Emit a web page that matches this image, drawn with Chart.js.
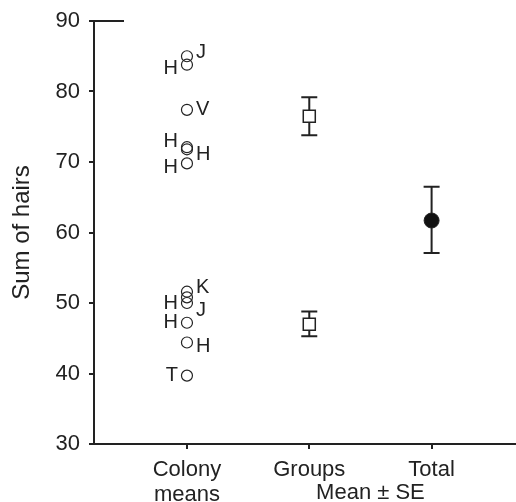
<!DOCTYPE html>
<html><head><meta charset="utf-8">
<script src="https://cdn.jsdelivr.net/npm/chart.js@4/dist/chart.umd.min.js"></script>
<style>html,body{margin:0;padding:0;background:#fff}canvas{display:block}</style>
</head><body>
<canvas id="c" width="516" height="502"></canvas>
<script>
// ---- data ----
const categories = ["Colony\nmeans", "Groups", "Total"];
const groupTitle = "Mean ± SE";
const yAxisTitle = "Sum of hairs";
const yTicks = [30, 40, 50, 60, 70, 80, 90];
const colonyMeans = [85.0, 83.8, 77.4, 72.1, 71.8, 69.8, 51.6, 50.8, 50.0, 47.2, 44.4, 39.7];
const colonyLabels = ["J", "H", "V", "H", "H", "H", "K", "H", "J", "H", "H", "T"];
const colonyLabelSide = ["right", "left", "right", "left", "right", "left", "right", "left", "right", "left", "right", "left"];
const colonyLabelY = [85.5, 83.3, 77.4, 72.85, 71.0, 69.2, 52.2, 50.0, 48.9, 47.2, 43.9, 39.7];
const groupMeans = [76.5, 47.0];
const groupLow = [73.8, 45.3];
const groupHigh = [79.2, 48.8];
const totalMean = [61.7];
const totalLow = [57.1];
const totalHigh = [66.5];

const FONT = "'Liberation Sans', Arial, Helvetica, sans-serif";
const INK = '#222';
const TICK_PAD = 8, TICK_LEN = 5, LINE_H = 25;

const colonyData = colonyMeans.map(v => ({x: 1, y: v}));
const groupData = groupMeans.map((v, i) => ({x: 2, y: v, lo: groupLow[i], hi: groupHigh[i]}));
const totalData = totalMean.map((v, i) => ({x: 3, y: v, lo: totalLow[i], hi: totalHigh[i]}));

const errorBars = {
  id: 'errorBars',
  beforeDatasetsDraw(chart) {
    const ctx = chart.ctx, xs = chart.scales.x, ys = chart.scales.y;
    ctx.save();
    ctx.strokeStyle = INK; ctx.lineWidth = 2;
    chart.data.datasets.forEach(ds => {
      if (!ds.hasErr) return;
      ds.data.forEach(p => {
        const x = xs.getPixelForValue(p.x), y1 = ys.getPixelForValue(p.lo), y2 = ys.getPixelForValue(p.hi);
        ctx.beginPath();
        ctx.moveTo(x, y1); ctx.lineTo(x, y2);
        ctx.moveTo(x - 8, y1); ctx.lineTo(x + 8, y1);
        ctx.moveTo(x - 8, y2); ctx.lineTo(x + 8, y2);
        ctx.stroke();
      });
    });
    ctx.restore();
  }
};

const pointLabels = {
  id: 'pointLabels',
  afterDatasetsDraw(chart) {
    const ctx = chart.ctx, xs = chart.scales.x, ys = chart.scales.y;
    ctx.save();
    ctx.fillStyle = INK;
    ctx.font = '20px ' + FONT;
    ctx.textBaseline = 'middle';
    const x0 = xs.getPixelForValue(1);
    colonyLabels.forEach((t, i) => {
      const y = ys.getPixelForValue(colonyLabelY[i]);
      if (colonyLabelSide[i] === 'right') { ctx.textAlign = 'left'; ctx.fillText(t, x0 + 9, y); }
      else { ctx.textAlign = 'right'; ctx.fillText(t, x0 - 9, y); }
    });
    // second-line group title under Groups & Total
    const xm = (xs.getPixelForValue(2) + xs.getPixelForValue(3)) / 2;
    ctx.font = '22px ' + FONT;
    ctx.textAlign = 'center';
    ctx.textBaseline = 'top';
    ctx.fillText(groupTitle, xm, xs.top + TICK_LEN + TICK_PAD + LINE_H);
    // short top cap at the y-axis top
    ctx.strokeStyle = INK; ctx.lineWidth = 2;
    const yt = ys.getPixelForValue(90);
    ctx.beginPath(); ctx.moveTo(chart.chartArea.left - 1, yt); ctx.lineTo(chart.chartArea.left + 30, yt); ctx.stroke();
    ctx.restore();
  }
};

new Chart(document.getElementById('c'), {
  type: 'scatter',
  data: {
    datasets: [
      {label: 'Colony means', data: colonyData, pointStyle: 'circle', pointRadius: 5.5, pointHoverRadius: 5.5,
       borderColor: INK, backgroundColor: 'rgba(0,0,0,0)', borderWidth: 1.2},
      {label: 'Groups', data: groupData, hasErr: true, pointStyle: 'rect', pointRadius: 8.5, pointHoverRadius: 8.5,
       borderColor: INK, backgroundColor: '#fff', borderWidth: 1.5},
      {label: 'Total', data: totalData, hasErr: true, pointStyle: 'circle', pointRadius: 7.5, pointHoverRadius: 7.5,
       borderColor: INK, backgroundColor: '#111', borderWidth: 1}
    ]
  },
  options: {
    responsive: false, animation: false, events: [],
    layout: {autoPadding: false, padding: {top: 21, right: 0, left: 0, bottom: 0}},
    plugins: {legend: {display: false}, tooltip: {enabled: false}},
    scales: {
      x: {
        type: 'linear', min: 0.24, max: 3.69,
        afterBuildTicks: s => { s.ticks = categories.map((c, i) => ({value: i + 1})); },
        afterFit: s => { s.height = 58; s.paddingLeft = 0; s.paddingRight = 0; },
        ticks: {
          callback: v => (categories[v - 1] || '').split('\n'),
          color: INK, font: {family: FONT, size: 22, lineHeight: LINE_H / 22}, padding: TICK_PAD, maxRotation: 0, autoSkip: false
        },
        grid: {display: true, drawOnChartArea: false, drawTicks: true, tickLength: TICK_LEN, color: INK, lineWidth: 2},
        border: {display: true, color: INK, width: 2}
      },
      y: {
        type: 'linear', min: 30, max: 90,
        afterBuildTicks: s => { s.ticks = yTicks.map(v => ({value: v})); },
        afterFit: s => { s.width = 94; s.paddingTop = 0; s.paddingBottom = 0; },
        ticks: {color: INK, font: {family: FONT, size: 22}, padding: 9},
        grid: {display: true, drawOnChartArea: false, drawTicks: true, tickLength: 5, color: INK, lineWidth: 2},
        border: {display: true, color: INK, width: 2},
        title: {display: true, text: yAxisTitle, color: INK, font: {family: FONT, size: 24}, padding: {top: 8, bottom: 0}}
      }
    }
  },
  plugins: [errorBars, pointLabels]
});
</script>
</body></html>
